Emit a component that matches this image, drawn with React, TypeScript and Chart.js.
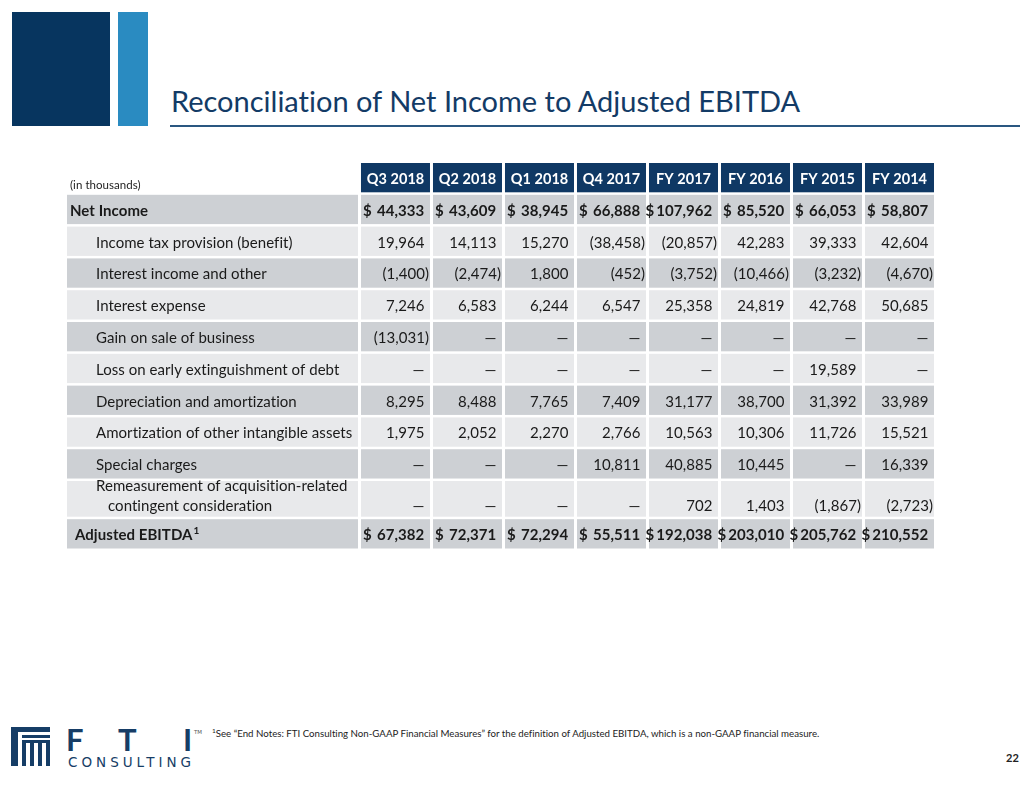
import React, { useEffect, useRef } from "react";
import { Chart, registerables } from "chart.js";

Chart.register(...registerables);

// ---------- data ----------
const periods = ["Q3 2018", "Q2 2018", "Q1 2018", "Q4 2017", "FY 2017", "FY 2016", "FY 2015", "FY 2014"];

const netIncome = [44333, 43609, 38945, 66888, 107962, 85520, 66053, 58807];
const incomeTax = [19964, 14113, 15270, -38458, -20857, 42283, 39333, 42604];
const interestIncome = [-1400, -2474, 1800, -452, -3752, -10466, -3232, -4670];
const interestExpense = [7246, 6583, 6244, 6547, 25358, 24819, 42768, 50685];
const gainOnSale = [-13031, null, null, null, null, null, null, null];
const lossOnDebt = [null, null, null, null, null, null, 19589, null];
const depreciation = [8295, 8488, 7765, 7409, 31177, 38700, 31392, 33989];
const amortization = [1975, 2052, 2270, 2766, 10563, 10306, 11726, 15521];
const specialCharges = [null, null, null, 10811, 40885, 10445, null, 16339];
const remeasurement = [null, null, null, null, 702, 1403, -1867, -2723];
const adjustedEbitda = [67382, 72371, 72294, 55511, 192038, 203010, 205762, 210552];

const rowLabels = [
  ["Net Income"],
  ["Income tax provision (benefit)"],
  ["Interest income and other"],
  ["Interest expense"],
  ["Gain on sale of business"],
  ["Loss on early extinguishment of debt"],
  ["Depreciation and amortization"],
  ["Amortization of other intangible assets"],
  ["Special charges"],
  ["Remeasurement of acquisition-related", "contingent consideration"],
  ["Adjusted EBITDA"],
];

const rowValues = [
  netIncome, incomeTax, interestIncome, interestExpense, gainOnSale, lossOnDebt,
  depreciation, amortization, specialCharges, remeasurement, adjustedEbitda,
];

// ---------- style ----------
const FONT = "Lato, 'Open Sans', sans-serif";
const NAVY = "#0F3864";
const GREY = "#CDD0D4";
const LIGHT = "#E8E9EB";
const TEXT = "#1A1A1A";
const LABEL_UNITS = 4.083;
const GAP_X = 3;
const GAP_Y = 2.5;
const BODY_SIZE = 15;

const boldRows = [0, 10];
const rowIndent = [3, 29, 29, 29, 29, 29, 29, 29, 29, 29, 8];
const rowSpan = [1, 1, 1, 1, 1, 1, 1, 1, 1, 1.2, 1];

function fmt(v: number | null): string {
  if (v === null) return "\u2014";
  const s = Math.abs(v).toLocaleString("en-US");
  return v < 0 ? `(${s})` : s;
}

const tablePlugin = {
  id: "tableDraw",
  afterDraw(chart: any) {
    const { ctx } = chart;
    const xs = chart.scales.x;
    const ys = chart.scales.y;
    ctx.save();
    try {
      ctx.textRendering = "optimizeSpeed";
      ctx.letterSpacing = "0.05px";
    } catch (e) {}

    const labelLeft = xs.getPixelForValue(-LABEL_UNITS);
    const labelRight = xs.getPixelForValue(0) - GAP_X;

    // header row
    const hTop = ys.getPixelForValue(0);
    const hBot = ys.getPixelForValue(1) - GAP_Y;
    ctx.fillStyle = "#222";
    ctx.font = `11.5px ${FONT}`;
    ctx.textAlign = "left";
    ctx.textBaseline = "alphabetic";
    ctx.fillText("(in thousands)", labelLeft + 3, hBot - 3);

    periods.forEach((p, i) => {
      const x0 = xs.getPixelForValue(i);
      const x1 = xs.getPixelForValue(i + 1) - GAP_X;
      ctx.fillStyle = NAVY;
      ctx.fillRect(x0, hTop, x1 - x0, hBot - hTop);
      ctx.fillStyle = "#FFFFFF";
      ctx.font = `bold 14.5px ${FONT}`;
      ctx.textAlign = "center";
      ctx.textBaseline = "middle";
      ctx.fillText(p, (x0 + x1) / 2, (hTop + hBot) / 2 + 2);
    });

    let u = 1;
    rowLabels.forEach((lines, k) => {
      const span = rowSpan[k];
      const top = ys.getPixelForValue(u);
      const bot = ys.getPixelForValue(u + span) - GAP_Y;
      const fill = k % 2 === 0 ? GREY : LIGHT;
      const bold = boldRows.includes(k);
      const dollar = bold;
      const weight = bold ? "bold " : "";
      const font = `${weight}${BODY_SIZE}px ${FONT}`;

      ctx.fillStyle = fill;
      ctx.fillRect(labelLeft, top, labelRight - labelLeft, bot - top);

      const lineYs: number[] = [];
      if (lines.length === 1) {
        lineYs.push((top + bot) / 2 + 1.5);
      } else {
        for (let i = 0; i < lines.length; i++) {
          lineYs.push(bot - 11 - (lines.length - 1 - i) * 20);
        }
      }
      const valueY = lineYs[lineYs.length - 1];

      ctx.fillStyle = TEXT;
      ctx.textAlign = "left";
      ctx.textBaseline = "middle";
      ctx.font = font;
      lines.forEach((ln, i) => {
        const lx = labelLeft + rowIndent[k] + (i > 0 ? 12 : 0);
        ctx.fillText(ln, lx, lineYs[i]);
        if (k === 10 && i === 0) {
          const w = ctx.measureText(ln).width;
          ctx.font = `bold 10px ${FONT}`;
          ctx.fillText("1", lx + w + 1, lineYs[i] - 5);
          ctx.font = font;
        }
      });

      rowValues[k].forEach((v, i) => {
        const x0 = xs.getPixelForValue(i);
        const x1 = xs.getPixelForValue(i + 1) - GAP_X;
        ctx.fillStyle = fill;
        ctx.fillRect(x0, top, x1 - x0, bot - top);
        ctx.fillStyle = TEXT;
        ctx.font = font;
        ctx.textBaseline = "middle";
        const parenW = ctx.measureText(")").width;
        const s = fmt(v as number | null);
        const right = v !== null && (v as number) < 0 ? x1 - 1 : x1 - 1.5 - parenW;
        ctx.textAlign = "right";
        ctx.fillText(s, right, valueY);
        if (dollar) {
          const numW = ctx.measureText(s).width;
          const dW = ctx.measureText("$").width;
          let dx = x0 + 2;
          if (dx + dW + 2 > right - numW) dx = right - numW - dW - 2;
          ctx.textAlign = "left";
          ctx.fillText("$", dx, valueY);
        }
      });

      u += span;
    });

    ctx.restore();
  },
};

function TableChart() {
  const ref = useRef<HTMLCanvasElement | null>(null);
  useEffect(() => {
    if (!ref.current) return;
    const totalUnits = rowSpan.reduce((a, b) => a + b, 1);
    const chart = new Chart(ref.current, {
      type: "scatter",
      data: { datasets: [{ data: [], pointRadius: 0 }] },
      options: {
        animation: false,
        responsive: false,
        devicePixelRatio: 1,
        layout: { padding: 0 },
        plugins: { legend: { display: false }, tooltip: { enabled: false }, title: { display: false } },
        scales: {
          x: { type: "linear", min: -LABEL_UNITS, max: periods.length, display: false },
          y: { type: "linear", min: 0, max: totalUnits, reverse: true, display: false },
        },
      },
      plugins: [tablePlugin],
    });
    return () => chart.destroy();
  }, []);
  return (
    <canvas
      ref={ref}
      width={870}
      height={388}
      style={{ position: "absolute", left: 67, top: 163, width: 870, height: 388 }}
    />
  );
}

function Logo() {
  const c = "#163D66";
  return (
    <svg width={210} height={50} style={{ position: "absolute", left: 0, top: 722 }} viewBox="0 722 210 50">
      <rect x={11} y={727} width={39} height={5} fill={c} />
      <rect x={11} y={727} width={7} height={39} fill={c} />
      <rect x={22} y={735} width={28} height={3} fill={c} />
      <rect x={22} y={740} width={28} height={3} fill={c} />
      <rect x={22} y={740} width={4} height={26} fill={c} />
      <rect x={30} y={740} width={4} height={26} fill={c} />
      <rect x={38} y={740} width={4} height={26} fill={c} />
      <rect x={46} y={740} width={4} height={26} fill={c} />
      <text x={66} y={751} fontFamily="Lato, sans-serif" fontWeight="bold" fontSize={31} fill={c}>F</text>
      <text x={118} y={751} fontFamily="Lato, sans-serif" fontWeight="bold" fontSize={31} fill={c}>T</text>
      <text x={183} y={751} fontFamily="Lato, sans-serif" fontWeight="bold" fontSize={31} fill={c}>I</text>
      <text x={68} y={767} fontFamily="'DejaVu Sans', sans-serif" fontSize={13.5} fill={c} textLength={123} lengthAdjust="spacing">CONSULTING</text>
      <text x={194} y={734} fontFamily="'DejaVu Sans', sans-serif" fontSize={5.5} fill="#555">TM</text>
    </svg>
  );
}

export default function App() {
  return (
    <div style={{ position: "absolute", left: 0, top: 0, width: 1032, height: 792, background: "#fff", overflow: "hidden", fontFamily: FONT, fontVariantLigatures: "none" }}>
      <div style={{ position: "absolute", left: 12, top: 12, width: 98, height: 114, background: "#07355F" }} />
      <div style={{ position: "absolute", left: 118, top: 12, width: 30, height: 114, background: "#2A8BC1" }} />
      <div style={{ position: "absolute", left: 171, top: 86, fontSize: 29, lineHeight: "29px", color: "#133B66", whiteSpace: "nowrap" }}>
        Reconciliation of Net Income to Adjusted EBITDA
      </div>
      <div style={{ position: "absolute", left: 170, top: 125, width: 850, height: 2, background: "#2A5781" }} />
      <TableChart />
      <Logo />
      <div style={{ position: "absolute", left: 212, top: 725, fontSize: 9.7, lineHeight: "12px", color: "#222", whiteSpace: "nowrap" }}>
        <sup style={{ fontSize: 6.5 }}>1</sup>See “End Notes: FTI Consulting Non-GAAP Financial Measures” for the definition of Adjusted EBITDA, which is a non-GAAP financial measure.
      </div>
      <div style={{ position: "absolute", left: 1006, top: 751, fontSize: 11, fontWeight: "bold", color: "#222" }}>22</div>
    </div>
  );
}
